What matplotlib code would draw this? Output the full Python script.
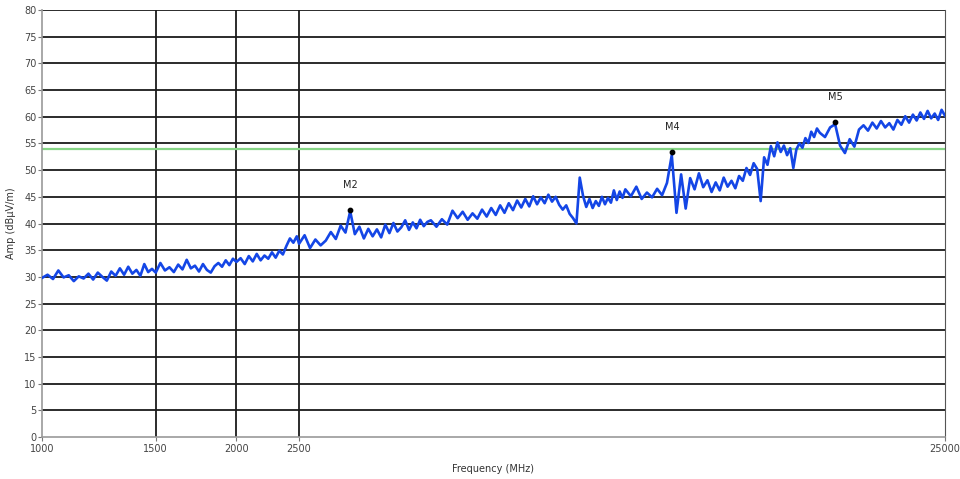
import matplotlib
matplotlib.use("Agg")
import matplotlib.pyplot as plt
from matplotlib.ticker import FixedLocator, FixedFormatter, NullLocator

# sweep (MHz, dBuV/m)
freq_1 = [1000, 1020, 1040, 1060, 1080, 1100, 1120, 1140, 1160, 1180, 1200, 1220, 1240,
          1260, 1280, 1300, 1320, 1340, 1360, 1380, 1400, 1420, 1440, 1460, 1480]
level_1 = [29.8, 30.4, 29.6, 31.2, 29.9, 30.3, 29.2, 30.1, 29.7, 30.6, 29.5, 30.8, 30.0,
           29.3, 31.0, 30.2, 31.6, 30.4, 31.9, 30.6, 31.3, 30.2, 32.4, 30.9, 31.5]

freq_2 = [1500, 1525, 1550, 1575, 1600, 1625, 1650, 1675, 1700, 1725, 1750, 1775, 1800,
          1825, 1850, 1875, 1900, 1925, 1950, 1975]
level_2 = [30.8, 32.6, 31.2, 31.8, 30.9, 32.3, 31.4, 33.2, 31.6, 32.1, 31.0, 32.4, 31.3,
           30.8, 32.0, 32.6, 31.9, 33.1, 32.2, 33.4]

freq_3 = [2000, 2030, 2060, 2090, 2120, 2150, 2180, 2210, 2240, 2270, 2300, 2330, 2360,
          2390, 2420, 2450, 2480]
level_3 = [32.8, 33.5, 32.4, 33.9, 32.9, 34.3, 33.1, 34.0, 33.4, 34.6, 33.6, 34.9, 34.2,
           35.8, 37.2, 36.4, 37.6]

freq_4 = [2500, 2550, 2600, 2650, 2700, 2750, 2800, 2850, 2900, 2950, 3000, 3050, 3100,
          3150, 3200, 3250, 3300, 3350, 3400, 3450, 3500, 3550, 3600, 3650, 3700, 3750,
          3800, 3850, 3900, 3950]
level_4 = [36.2, 37.8, 35.4, 37.0, 35.9, 36.8, 38.4, 37.1, 39.6, 38.3, 42.3, 38.0, 39.4,
           37.2, 39.0, 37.6, 38.9, 37.4, 39.8, 38.2, 40.1, 38.5, 39.3, 40.6, 38.8, 40.2,
           39.1, 40.7, 39.5, 40.3]

freq_5 = [4000, 4080, 4160, 4240, 4320, 4400, 4480, 4560, 4640, 4720, 4800, 4880, 4960,
          5040, 5120, 5200, 5280, 5360, 5440, 5520, 5600, 5680, 5760, 5840, 5920, 6000,
          6080, 6160, 6240, 6320, 6400, 6480, 6560, 6640, 6720, 6800, 6880, 6960, 7040,
          7120, 7200, 7280, 7360, 7440, 7520, 7600, 7680, 7760, 7840, 7920]
level_5 = [40.6, 39.4, 40.8, 39.8, 42.4, 41.0, 42.2, 40.7, 41.9, 40.9, 42.6, 41.3, 42.9,
           41.6, 43.4, 42.0, 43.8, 42.5, 44.3, 43.0, 44.6, 43.2, 45.1, 43.6, 44.9, 43.8,
           45.4, 44.1, 45.0, 43.5, 42.6, 43.4, 41.8, 41.0, 40.0, 48.6, 45.2, 43.1, 44.6,
           42.9, 44.2, 43.3, 45.0, 43.6, 44.8, 43.9, 46.2, 44.4, 46.0, 44.8]

freq_6 = [8000, 8160, 8320, 8480, 8640, 8800, 8960, 9120, 9280, 9440, 9600, 9760, 9920,
          10080, 10240, 10400, 10560, 10720, 10880, 11040, 11200, 11360, 11520, 11680,
          11840, 12000, 12160, 12320, 12480, 12640, 12800, 12960, 13120, 13280, 13440,
          13600, 13760, 13920, 14080, 14240, 14400, 14560, 14720, 14880, 15040, 15200,
          15360, 15520, 15680, 15840]
level_6 = [46.4, 45.1, 46.9, 44.6, 45.8, 44.9, 46.5, 45.3, 47.6, 52.8, 42.0, 49.2, 42.8,
           48.5, 46.4, 49.4, 46.8, 48.1, 45.9, 47.7, 46.2, 48.6, 46.9, 48.0, 46.6, 48.9,
           48.0, 50.4, 49.1, 51.3, 50.2, 44.2, 52.4, 51.0, 54.5, 52.6, 55.2, 53.4, 54.6,
           52.8, 54.1, 50.4, 53.9, 55.0, 54.2, 56.0, 55.1, 57.2, 56.2, 57.8]

freq_7 = [16000, 16300, 16600, 16900, 17200, 17500, 17800, 18100, 18400, 18700, 19000,
          19300, 19600, 19900, 20200, 20500, 20800, 21100, 21400, 21700, 22000, 22300,
          22600, 22900, 23200, 23500, 23800, 24100, 24400, 24700, 25000]
level_7 = [57.0, 56.2, 58.0, 58.6, 54.6, 53.2, 55.8, 54.4, 57.6, 58.4, 57.4, 58.9, 57.8,
           59.2, 58.0, 58.8, 57.6, 59.4, 58.5, 60.1, 58.9, 60.4, 59.3, 60.8, 59.6, 61.1,
           59.7, 60.6, 59.4, 61.3, 60.2]

freqs = freq_1 + freq_2 + freq_3 + freq_4 + freq_5 + freq_6 + freq_7
levels = level_1 + level_2 + level_3 + level_4 + level_5 + level_6 + level_7

limit = 54.0
marker_names = ["M2", "M4", "M5"]
marker_freqs = [3000, 9450, 16900]
marker_levels = [42.5, 53.4, 59.0]

x_ticks = [1000, 1500, 2000, 2500, 25000]
y_ticks = list(range(0, 85, 5))

fig = plt.figure(figsize=(9.6, 4.79), dpi=100)
ax = fig.add_axes([0.04375, 0.0877, 0.9406, 0.8914])

ax.set_xscale("log")
ax.set_xlim(1000, 25000)
ax.set_ylim(0, 80)

for y in y_ticks[1:]:
    ax.axhline(y, color="#1a1a1a", lw=1.3, zorder=1)
for x in x_ticks[1:4]:
    ax.axvline(x, color="#1a1a1a", lw=1.3, zorder=1)

ax.axhline(limit, color="#86d486", lw=1.6, zorder=2)
ax.plot(freqs, levels, color="#1446e6", lw=1.9, zorder=3)

ax.scatter(marker_freqs, marker_levels, s=10, color="black", zorder=4)
for name, f, l in zip(marker_names, marker_freqs, marker_levels):
    ax.annotate(name, (f, l), xytext=(0, 18), textcoords="offset points",
                ha="center", va="center", fontsize=7, color="#222222")

ax.xaxis.set_major_locator(FixedLocator(x_ticks))
ax.xaxis.set_major_formatter(FixedFormatter([str(t) for t in x_ticks]))
ax.xaxis.set_minor_locator(NullLocator())
ax.set_yticks(y_ticks)

ax.tick_params(axis="both", labelsize=7, labelcolor="#444444", color="#777777",
               length=3, width=0.8)
ax.tick_params(axis="x", pad=2)
ax.tick_params(axis="y", pad=1)

for side in ["left", "bottom"]:
    ax.spines[side].set_color("#999999")
    ax.spines[side].set_linewidth(1.2)
ax.spines["right"].set_color("#555555")
ax.spines["right"].set_linewidth(0.8)
ax.spines["top"].set_visible(False)

ax.set_xlabel("Frequency (MHz)", fontsize=7, color="#333333", labelpad=7)
ax.set_ylabel("Amp (dBµV/m)", fontsize=7, color="#333333", labelpad=6)

fig.savefig("out.png", dpi=100)
